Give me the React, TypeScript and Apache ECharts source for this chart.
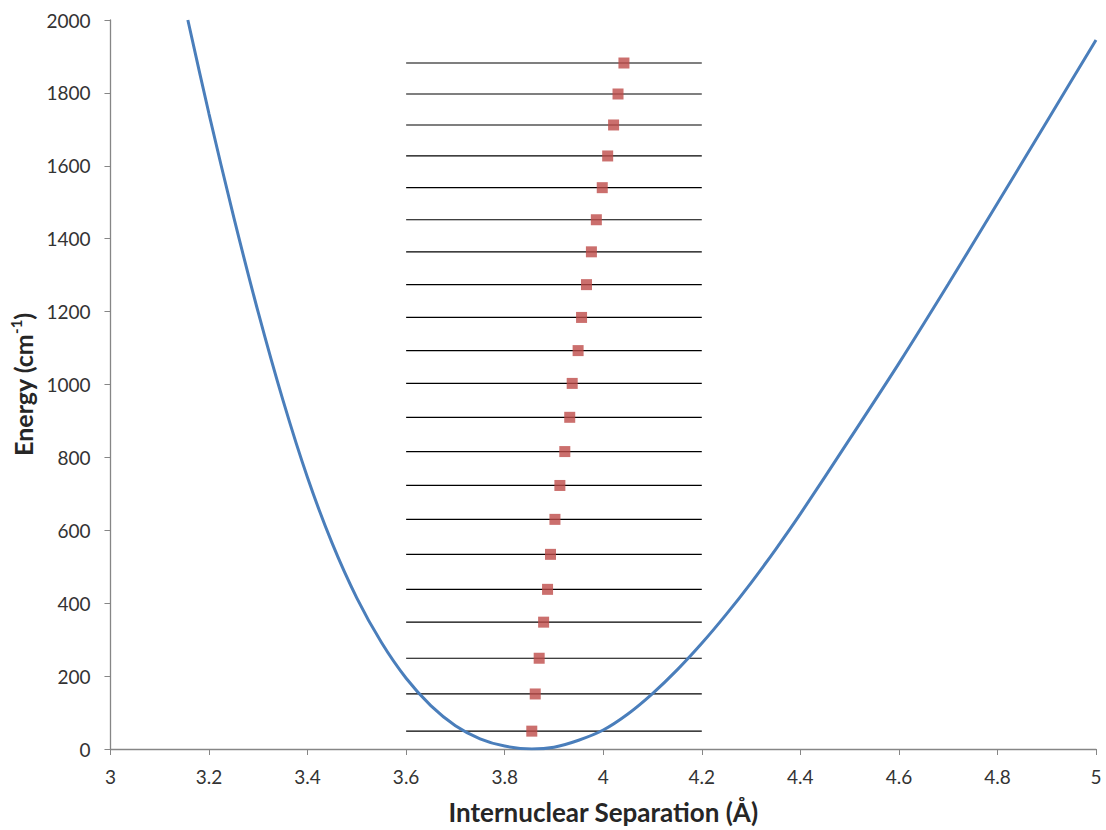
import React, { useEffect, useRef } from "react";
import * as echarts from "echarts";

// Potential energy curve
const curveX = [3.157, 3.2, 3.25, 3.3, 3.35, 3.4, 3.45, 3.5, 3.55, 3.6, 3.65, 3.7, 3.75, 3.8, 3.855, 3.9, 3.95, 4.0, 4.05, 4.1, 4.15, 4.2, 4.25, 4.3, 4.35, 4.4, 4.5, 4.6, 4.7, 4.8, 4.9, 5.0];
const curveY = [2000, 1742, 1460, 1197, 957, 744, 564, 414, 292, 194, 119, 64, 28, 8, 0, 5, 24, 52, 96, 152, 217, 290, 370, 456, 548, 645, 850, 1058, 1275, 1497, 1721, 1945];

// Vibrational levels (energy and marker position)
const levelEnergy = [49, 151, 249, 348, 438, 534, 630, 723, 816, 910, 1003, 1093, 1184, 1274, 1364, 1452, 1540, 1627, 1712, 1797, 1882];
const levelCenterX = [3.855, 3.862, 3.87, 3.879, 3.887, 3.893, 3.902, 3.912, 3.922, 3.932, 3.937, 3.949, 3.956, 3.966, 3.976, 3.986, 3.998, 4.009, 4.021, 4.03, 4.042];
const levelLineStart = 3.6;
const levelLineEnd = 4.2;

const FONT = "Lato, 'Open Sans', sans-serif";

export default function App() {
  const ref = useRef<HTMLDivElement>(null);
  useEffect(() => {
    document.body.style.margin = "0";
    if (!ref.current) return;
    const chart = echarts.init(ref.current, undefined, { renderer: "svg" });
    const levelSeries = levelEnergy.map((e, i) => ({
      type: "line",
      name: "level" + i,
      data: [
        [levelLineStart, e],
        [levelLineEnd, e],
      ],
      symbol: "none",
      lineStyle: { color: "#000000", width: 1.2 },
      silent: true,
      z: 1,
    }));
    chart.setOption({
      animation: false,
      backgroundColor: "#ffffff",
      textStyle: { fontFamily: FONT },
      grid: { left: 109, right: 10, top: 20, bottom: 80, containLabel: false },
      xAxis: {
        type: "value",
        min: 3,
        max: 5,
        interval: 0.2,
        name: "Internuclear Separation (Å)",
        nameLocation: "middle",
        nameGap: 50,
        nameTextStyle: { fontSize: 26, fontWeight: "bold", color: "#262626", fontFamily: FONT },
        axisLine: { show: true, lineStyle: { color: "#868686", width: 1.3 } },
        axisTick: { show: true, length: 6, lineStyle: { color: "#868686" } },
        axisLabel: { fontSize: 19, color: "#333333", margin: 18, fontFamily: FONT, formatter: (v: number) => String(Math.round(v * 10) / 10) },
        splitLine: { show: false },
      },
      yAxis: {
        type: "value",
        min: 0,
        max: 2000,
        interval: 200,
        name: "{a|Energy (cm}{s|-1}{a|)}",
        nameLocation: "middle",
        nameGap: 70,
        nameRotate: 90,
        nameTextStyle: {
          fontSize: 25,
          fontWeight: "bold",
          color: "#262626",
          fontFamily: FONT,
          rich: {
            a: { fontSize: 25, fontWeight: "bold", color: "#262626", fontFamily: FONT, lineHeight: 30 },
            s: { fontSize: 15, fontWeight: "bold", color: "#262626", fontFamily: FONT, verticalAlign: "top", lineHeight: 30, padding: [0, 0, 8, 0] },
          },
        },
        axisLine: { show: true, lineStyle: { color: "#868686", width: 1.3 } },
        axisTick: { show: true, length: 6, lineStyle: { color: "#868686" } },
        axisLabel: { fontSize: 19, color: "#333333", margin: 20, fontFamily: FONT, formatter: (v: number) => String(v) },
        splitLine: { show: false },
      },
      series: [
        ...levelSeries,
        {
          type: "line",
          name: "potential",
          data: curveX.map((x, i) => [x, curveY[i]]),
          smooth: 0.3,
          symbol: "none",
          lineStyle: { color: "#4A7EBB", width: 3 },
          z: 2,
        },
        {
          type: "scatter",
          name: "levels",
          data: levelCenterX.map((x, i) => [x, levelEnergy[i]]),
          symbol: "rect",
          symbolSize: 11,
          itemStyle: { color: "#BE4B48" },
          z: 3,
        },
      ],
    });
    return () => chart.dispose();
  }, []);
  return <div ref={ref} style={{ width: 1106, height: 830 }} />;
}
